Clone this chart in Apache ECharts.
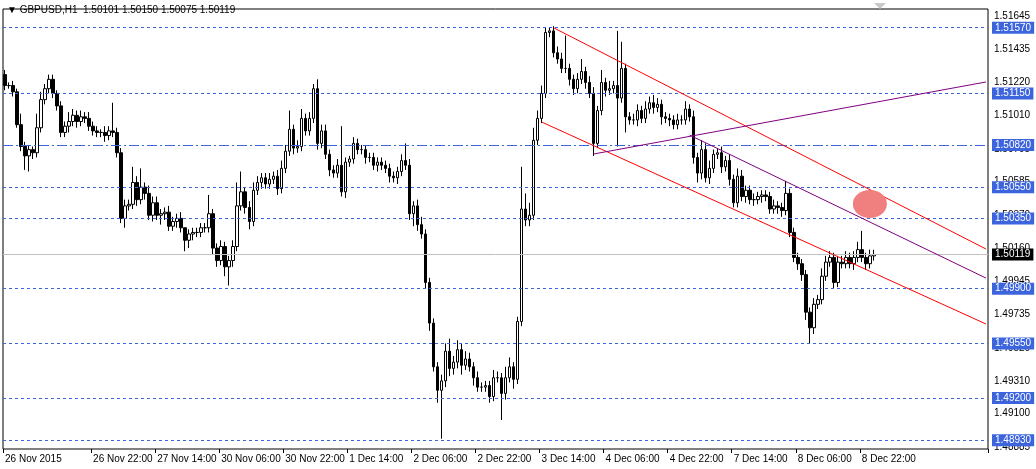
<!DOCTYPE html>
<html>
<head>
<meta charset="utf-8">
<script src="https://cdn.jsdelivr.net/npm/echarts@6/dist/echarts.min.js"></script>
<style>
  html, body { margin: 0; padding: 0; background: #fff; }
  #chart { width: 1036px; height: 469px; }
</style>
</head>
<body>
<div id="chart"></div>
<script>
// hourly closes, GBPUSD H1 (open = previous close)
var firstOpen = 1.5127;
var closes = [
  1.5120,1.5120,1.5116,1.5095,1.5081,1.5075,1.5079,1.5077,1.5093,1.5111,
  1.5118,1.5124,1.5115,1.5107,1.5090,1.5094,1.5097,1.5101,1.5097,1.5100,
  1.5099,1.5094,1.5091,1.5090,1.5090,1.5088,1.5091,1.5090,1.5077,1.5035,
  1.5043,1.5044,1.5058,1.5047,1.5055,1.5051,1.5037,1.5045,1.5037,1.5038,
  1.5039,1.5030,1.5033,1.5035,1.5029,1.5021,1.5025,1.5026,1.5026,1.5029,
  1.5029,1.5038,1.5016,1.5008,1.5017,1.5004,1.5008,1.5017,1.5043,1.5052,
  1.5042,1.5033,1.5053,1.5058,1.5061,1.5057,1.5060,1.5062,1.5054,1.5067,
  1.5078,1.5092,1.5080,1.5081,1.5099,1.5091,1.5099,1.5118,1.5083,1.5091,
  1.5076,1.5066,1.5064,1.5069,1.5052,1.5071,1.5073,1.5083,1.5079,1.5079,
  1.5074,1.5074,1.5069,1.5071,1.5069,1.5067,1.5062,1.5061,1.5065,1.5072,
  1.5069,1.5038,1.5043,1.5031,1.5025,1.4994,1.4968,1.4940,1.4925,1.4931,
  1.4950,1.4939,1.4943,1.4951,1.4941,1.4945,1.4940,1.4933,1.4927,1.4927,
  1.4928,1.4921,1.4933,1.4933,1.4923,1.4933,1.4940,1.4932,1.4969,1.5041,
  1.5034,1.5037,1.5085,1.5099,1.5115,1.5154,1.5155,1.5141,1.5137,1.5131,
  1.5131,1.5124,1.5118,1.5124,1.5129,1.5122,1.5115,1.5083,1.5104,1.5122,
  1.5117,1.5118,1.5120,1.5112,1.5131,1.5100,1.5098,1.5098,1.5104,1.5099,
  1.5105,1.5109,1.5106,1.5108,1.5100,1.5099,1.5098,1.5095,1.5098,1.5098,
  1.5105,1.5100,1.5074,1.5064,1.5079,1.5061,1.5067,1.5076,1.5077,1.5068,
  1.5072,1.5060,1.5045,1.5062,1.5049,1.5053,1.5047,1.5047,1.5049,1.5050,
  1.5049,1.5041,1.5043,1.5042,1.5040,1.5051,1.5026,1.5010,1.5006,1.4999,
  1.4975,1.4965,1.4980,1.4983,1.4998,1.5007,1.5010,1.4994,1.5007,1.5006,
  1.5010,1.5006,1.5010,1.5015,1.5010,1.5006,1.5011,1.50119
];
// upper / lower wick lengths in pips
var wickUp = [
  3,2,3,2,7,3,3,2,9,5, 3,3,3,2,3,3,6,4,3,4, 3,4,3,3,2,4,3,18,3,3,
  4,3,10,4,12,3,5,4,4,3, 3,4,3,3,4,0,3,3,3,3, 3,12,3,3,4,3,3,4,15,13,
  3,4,5,4,3,3,4,3,4,5, 4,12,3,4,6,3,4,3,6,4, 4,3,3,4,25,3,2,4,3,3,
  3,3,3,3,3,3,3,3,3,4, 11,4,3,4,5,3,3,3,3,4, 5,8,4,6,4,5,4,3,4,3,
  3,3,5,4,3,7,6,3,3,27, 10,8,8,5,5,3,2,3,4,4, 21,3,3,4,8,3,4,4,3,8,
  3,5,3,35,17,3,3,4,4,3, 5,4,5,4,3,3,3,3,4,3, 5,3,4,3,6,4,5,3,3,4,
  3,4,3,5,4,3,3,4,3,3, 3,3,4,3,3,8,3,3,3,3, 3,3,4,3,5,4,4,3,4,4,
  4,3,4,5,12,3,4,3
];
var wickDn = [
  3,2,3,2,3,9,10,4,3,3, 3,3,3,3,3,3,4,3,4,3, 3,3,3,3,3,4,3,3,3,3,
  6,3,3,4,3,4,3,4,3,6, 4,3,3,4,3,7,5,4,3,3, 3,3,4,4,3,6,12,4,3,3,
  4,5,3,3,4,3,3,3,4,3, 3,3,4,3,3,3,3,3,4,3, 3,4,3,3,3,4,3,3,3,3,
  4,3,3,4,3,3,4,3,4,3, 3,4,8,4,3,4,5,3,8,31, 4,5,4,4,6,3,3,5,3,3,
  3,4,3,3,17,4,3,6,3,3, 4,4,3,3,3,3,3,3,3,3, 3,4,4,3,3,4,3,8,3,3,
  4,3,3,31,3,10,3,3,4,3, 3,3,4,3,5,3,4,3,3,3, 3,3,4,6,4,3,4,3,3,4,
  3,4,3,3,3,4,3,4,3,4, 3,3,3,4,4,3,3,3,4,4, 5,10,4,3,3,3,3,4,3,3,
  3,3,4,3,3,4,3,3
];
var days = ['26 Nov','27 Nov','30 Nov','1 Dec','2 Dec','3 Dec','4 Dec','7 Dec','8 Dec','9 Dec','10 Dec'];
var timeTicks = ['26 Nov 00:00','26 Nov 22:00','27 Nov 14:00','30 Nov 06:00','30 Nov 22:00','1 Dec 14:00',
  '2 Dec 06:00','2 Dec 22:00','3 Dec 14:00','4 Dec 06:00','4 Dec 22:00','7 Dec 14:00','8 Dec 06:00','8 Dec 22:00'];
var priceTicks = [1.51645,1.51435,1.51220,1.51010,1.50795,1.50585,1.50370,1.50160,1.49945,1.49735,1.49520,1.49310,1.49100,1.48885];
var levels = [1.51570,1.51150,1.50820,1.50550,1.50350,1.49900,1.49550,1.49200,1.48930];
var bid = 1.50119;

var nCats = 246;
var categories = [];
for (var d = 0; d < days.length && categories.length < nCats; d++) {
  for (var h = 0; h < 24 && categories.length < nCats; h++) {
    categories.push(days[d] + ' ' + (h < 10 ? '0' : '') + h + ':00');
  }
}

var candles = [];
var prev = firstOpen;
for (var i = 0; i < closes.length; i++) {
  var o = prev, c = closes[i];
  candles.push([o, c, Math.min(o, c) - wickDn[i] / 10000, Math.max(o, c) + wickUp[i] / 10000]);
  prev = c;
}

function cat(i) { return categories[i]; }
var blue = '#3c64dc';
var font = 'Liberation Sans';

var levelLines = levels.map(function (v) {
  return {
    yAxis: v,
    lineStyle: {color: blue, width: 1, type: v === 1.5082 ? [10, 3, 2, 3] : [3, 3]},
    label: {backgroundColor: blue, color: '#fff'}
  };
});
levelLines.push({
  yAxis: bid,
  lineStyle: {color: '#c0c0c0', width: 1, type: 'solid'},
  label: {backgroundColor: '#000', color: '#fff'}
});

var myChart = echarts.init(document.getElementById('chart'));
myChart.setOption({
  animation: false,
  backgroundColor: '#fff',
  textStyle: {fontFamily: font, fontSize: 10},
  grid: {left: 3, right: 48, top: 9, bottom: 20, show: true, borderColor: '#000', borderWidth: 1},
  xAxis: {
    type: 'category',
    data: categories,
    boundaryGap: true,
    axisLine: {show: false},
    axisTick: {
      show: true, length: 4, lineStyle: {color: '#000'},
      interval: function (i, v) { return timeTicks.indexOf(v) >= 0; }
    },
    axisLabel: {
      color: '#000', fontSize: 10, fontFamily: font, align: 'left', margin: 5,
      interval: function (i, v) { return timeTicks.indexOf(v) >= 0; },
      formatter: function (v, i) { return i === 0 ? '26 Nov 2015' : v; }
    },
    splitLine: {show: false}
  },
  yAxis: {
    type: 'value', position: 'right', min: 1.48874, max: 1.51690, scale: true,
    axisLine: {show: false}, axisTick: {show: false}, axisLabel: {show: false}, splitLine: {show: false}
  },
  graphic: [
    {type: 'text', left: 7, top: 5, style: {text: '▼ GBPUSD,H1  1.50101 1.50150 1.50075 1.50119',
      fill: '#000', font: '10px "Liberation Sans"'}},
    {type: 'polygon', shape: {points: [[874, 3], [886, 3], [880, 9]]}, style: {fill: '#c8c8c8'}}
  ],
  series: [
    {
      type: 'candlestick',
      data: candles,
      barWidth: 3,
      itemStyle: {color: '#fff', color0: '#000', borderColor: '#000', borderColor0: '#000', borderWidth: 1},
      markLine: {
        silent: true, symbol: 'none', z: 1, precision: 5,
        label: {position: 'end', formatter: function (p) { return Number(p.value).toFixed(5); },
          color: '#000', fontSize: 10, fontFamily: font, distance: 6},
        lineStyle: {color: 'rgba(0,0,0,0)', width: 0},
        data: priceTicks.map(function (v) { return {yAxis: v}; })
      }
    },
    {
      type: 'line', data: [], z: 3,
      markLine: {
        silent: true, symbol: 'none', precision: 5,
        label: {position: 'end', formatter: function (p) { return Number(p.value).toFixed(5); },
          fontSize: 10, fontFamily: font, distance: 4, padding: [1, 3]},
        data: levelLines
      }
    },
    {
      type: 'line', data: [], z: 4,
      markLine: {
        silent: true, symbol: 'none', label: {show: false}, precision: 5,
        data: [
          [{coord: [cat(137), 1.51570], lineStyle: {color: '#ff0000', width: 1, type: 'solid'}}, {coord: [cat(245), 1.50154]}],
          [{coord: [cat(134), 1.50967], lineStyle: {color: '#ff0000', width: 1, type: 'solid'}}, {coord: [cat(245), 1.49674]}],
          [{coord: [cat(147), 1.50762], lineStyle: {color: '#800080', width: 1, type: 'solid'}}, {coord: [cat(245), 1.51223]}],
          [{coord: [cat(171), 1.50883], lineStyle: {color: '#800080', width: 1, type: 'solid'}}, {coord: [cat(245), 1.49968]}]
        ]
      },
      markPoint: {
        silent: true,
        data: [{coord: [cat(216), 1.50442], symbol: 'circle', symbolSize: [34, 28],
          itemStyle: {color: '#f08080'}, label: {show: false}}]
      }
    }
  ]
});
</script>
</body>
</html>
